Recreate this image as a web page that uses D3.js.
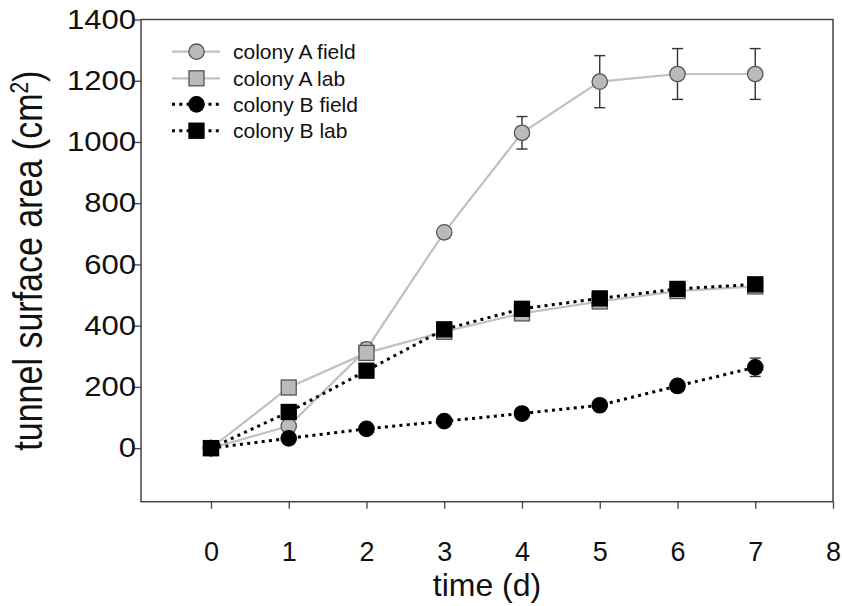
<!DOCTYPE html>
<html>
<head>
<meta charset="utf-8">
<script src="https://cdn.jsdelivr.net/npm/d3@7"></script>
<style>
  body { margin: 0; background: #fff; }
  text { font-family: "Liberation Sans", Arial, sans-serif; fill: #111; }
</style>
</head>
<body>
<div id="chart"></div>
<script>
"use strict";

// values
const days = [0, 1, 2, 3, 4, 5, 6, 7];
const colonyAField = [0, 72, 323, 705, 1030, 1197, 1222, 1222];
const colonyAFieldErr = [0, 0, 20, 0, 53, 85, 83, 83];
const colonyALab = [0, 198, 311, 380, 440, 479, 513, 528];
const colonyBField = [0, 32, 63, 88, 113, 140, 203, 264];
const colonyBFieldErr = [0, 0, 0, 0, 0, 0, 0, 30];
const colonyBLab = [0, 118, 253, 388, 455, 489, 520, 535];

const xTicks = [0, 1, 2, 3, 4, 5, 6, 7, 8];
const yTicks = [0, 200, 400, 600, 800, 1000, 1200, 1400];
const seriesNames = ["colony A field", "colony A lab", "colony B field", "colony B lab"];

let width = 842, height = 606;
let plotLeft = 141, plotRight = 833, plotTop = 19.5, plotBottom = 501.7;

let svg = d3.select("#chart").append("svg")
  .attr("width", width).attr("height", height);

let x = d3.scaleLinear().domain([-0.9, 8]).range([plotLeft, plotRight]);
let y = d3.scaleLinear().domain([-175, 1400]).range([plotBottom, plotTop]);

// axes
let xAxis = svg.append("g")
  .attr("transform", "translate(0," + plotBottom + ")")
  .call(d3.axisBottom(x).tickValues(xTicks).tickSize(7).tickFormat(d3.format("d")));
let yAxis = svg.append("g")
  .attr("transform", "translate(" + plotLeft + ",0)")
  .call(d3.axisLeft(y).tickValues(yTicks).tickSize(7).tickFormat(d3.format("d")));

[xAxis, yAxis].forEach(function(g){
  g.select(".domain").remove();
  g.selectAll(".tick line").attr("stroke", "#444").attr("stroke-width", 1.3);
  g.selectAll(".tick text")
    .style("font-family", '"Liberation Sans", Arial, sans-serif')
    .style("font-size", "27px").attr("fill", "#111");
});
xAxis.selectAll(".tick text").attr("y", 40);
// y labels look a bit wider than plain Arial in the figure
yAxis.selectAll(".tick text")
  .attr("x", 0)
  .attr("transform", "translate(-5,0) scale(1.15,1)");

// frame
svg.append("rect")
  .attr("x", plotLeft).attr("y", plotTop)
  .attr("width", plotRight - plotLeft).attr("height", plotBottom - plotTop)
  .attr("fill", "none").attr("stroke", "#444").attr("stroke-width", 1.5);

// axis titles
svg.append("text")
  .attr("x", (plotLeft + plotRight) / 2).attr("y", 596)
  .attr("text-anchor", "middle")
  .style("font-size", "32px")
  .text("time (d)");

let yTitle = svg.append("text")
  .attr("transform", "translate(42," + ((plotTop + plotBottom) / 2) + ") rotate(-90) scale(1,1.2)")
  .attr("text-anchor", "middle")
  .style("font-size", "34px");
yTitle.append("tspan").text("tunnel surface area (cm");
yTitle.append("tspan").attr("baseline-shift", "super").style("font-size", "21px").text("2");
yTitle.append("tspan").text(")");

// series styling
let grayLine = "#c0c0c0", grayFill = "#bababa", grayEdge = "#555";
let series = [
  { name: seriesNames[0], vals: colonyAField, err: colonyAFieldErr, shape: "circle", fill: grayFill, edge: grayEdge, line: grayLine, dash: null },
  { name: seriesNames[1], vals: colonyALab, err: null, shape: "square", fill: grayFill, edge: grayEdge, line: grayLine, dash: null },
  { name: seriesNames[2], vals: colonyBField, err: colonyBFieldErr, shape: "circle", fill: "#000", edge: "#000", line: "#000", dash: "3,4.3" },
  { name: seriesNames[3], vals: colonyBLab, err: null, shape: "square", fill: "#000", edge: "#000", line: "#000", dash: "3,4.3" }
];

let line = d3.line()
  .x(function(d){ return x(d[0]); })
  .y(function(d){ return y(d[1]); });

function drawMarker(g, shape, cx, cy, s) {
  if (shape === "circle") {
    g.append("circle").attr("cx", cx).attr("cy", cy).attr("r", 7.7)
      .attr("fill", s.fill).attr("stroke", s.edge).attr("stroke-width", 1.3);
  } else {
    g.append("rect").attr("x", cx - 7.5).attr("y", cy - 7.5).attr("width", 15).attr("height", 15)
      .attr("fill", s.fill).attr("stroke", s.edge).attr("stroke-width", 1.3);
  }
}

series.forEach(function(s){
  let g = svg.append("g");
  let pts = days.map(function(d, i){ return [d, s.vals[i]]; });

  g.append("path").datum(pts)
    .attr("d", line)
    .attr("fill", "none")
    .attr("stroke", s.line)
    .attr("stroke-width", s.dash ? 3 : 2.2)
    .attr("stroke-dasharray", s.dash);

  if (s.err) {
    days.forEach(function(d, i){
      let e = s.err[i];
      if (!e) return;
      let cx = x(d);
      g.append("line").attr("x1", cx).attr("x2", cx)
        .attr("y1", y(s.vals[i] - e)).attr("y2", y(s.vals[i] + e))
        .attr("stroke", "#333").attr("stroke-width", 1.4);
      [s.vals[i] - e, s.vals[i] + e].forEach(function(v){
        g.append("line").attr("x1", cx - 5.5).attr("x2", cx + 5.5)
          .attr("y1", y(v)).attr("y2", y(v))
          .attr("stroke", "#333").attr("stroke-width", 1.4);
      });
    });
  }

  pts.forEach(function(p){
    drawMarker(g, s.shape, x(p[0]), y(p[1]), s);
  });
});

// legend
let legendY = [51.7, 78.3, 104.3, 130.7];
series.forEach(function(s, i){
  let g = svg.append("g").attr("transform", "translate(0," + legendY[i] + ")");
  g.append("line").attr("x1", 172).attr("x2", 220).attr("y1", 0).attr("y2", 0)
    .attr("stroke", s.line)
    .attr("stroke-width", s.dash ? 3 : 2.2)
    .attr("stroke-dasharray", s.dash);
  drawMarker(g, s.shape, 196.5, 0, s);
  g.append("text").attr("x", 233).attr("y", 7.5)
    .style("font-size", "21px")
    .text(s.name);
});
</script>
</body>
</html>
